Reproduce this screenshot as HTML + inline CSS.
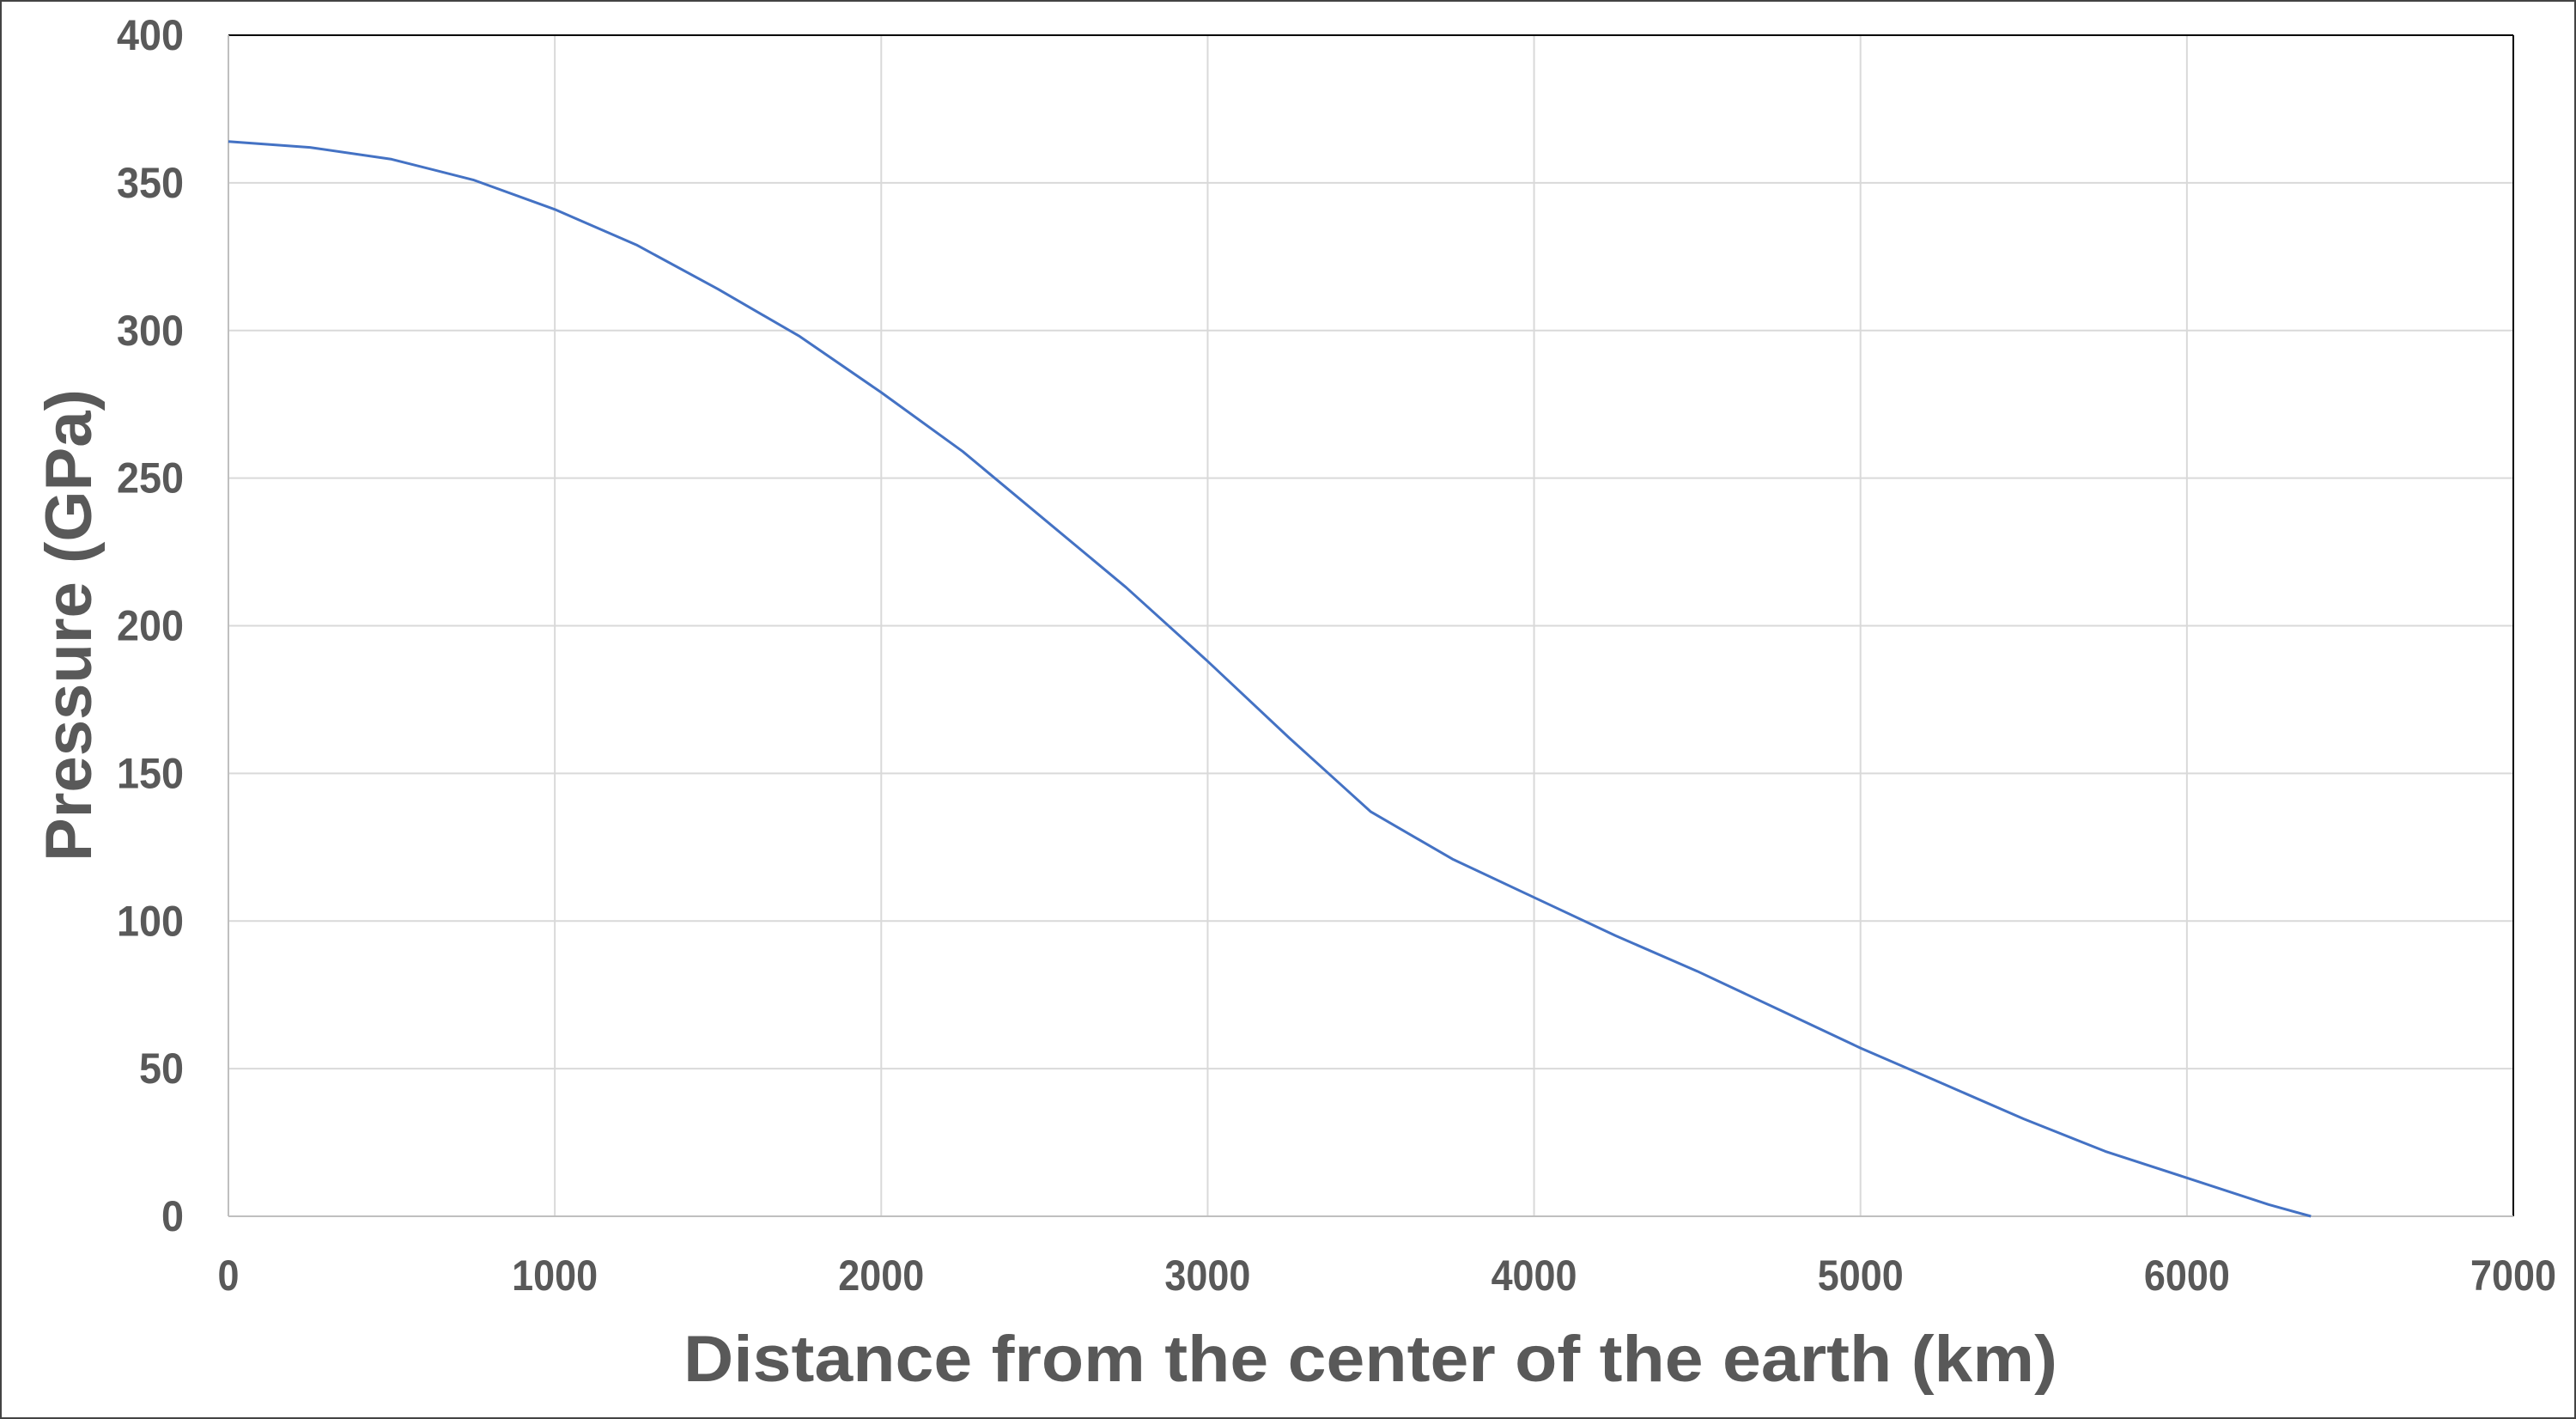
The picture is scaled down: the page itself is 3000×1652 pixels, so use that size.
<!DOCTYPE html>
<html><head><meta charset="utf-8"><style>
html,body{margin:0;padding:0;background:#fff;}
svg{display:block;}
text{font-family:"Liberation Sans",sans-serif;font-weight:bold;fill:#595959;}
</style></head><body>
<svg id="chart" width="3000" height="1652" viewBox="0 0 3000 1652" xmlns="http://www.w3.org/2000/svg">
<rect x="1" y="1" width="2998" height="1650" fill="#fff" stroke="#444" stroke-width="2"/>
<g id="grid"></g>
<g id="axes"></g>
<g id="series"></g>
<text x="1596" y="1608" text-anchor="middle" font-size="76" textLength="1600" lengthAdjust="spacingAndGlyphs">Distance from the center of the earth (km)</text>
<text transform="translate(106,728) rotate(-90)" text-anchor="middle" font-size="76" textLength="550" lengthAdjust="spacingAndGlyphs">Pressure (GPa)</text>
</svg>
<script>
const distances = [0,250,500,750,1000,1250,1500,1750,2000,2250,2500,2750,3000,3250,3400,3500,3750,4000,4250,4500,4750,5000,5250,5500,5750,6000,6250,6380];
const pressures = [364,362,358,351,341,329,314,298,279,259,236,213,188,162,147,137,121,108,95,83,70,57,45,33,22,13,4,0];
const xTicks = [0,1000,2000,3000,4000,5000,6000,7000];
const yTicks = [0,50,100,150,200,250,300,350,400];

const PL=266,PR=2927,PT=41,PB=1416;
const xs = v => PL + (v/7000)*(PR-PL);
const ys = v => PB - (v/400)*(PB-PT);
const NS="http://www.w3.org/2000/svg";
const gridG=document.getElementById('grid'), axesG=document.getElementById('axes'), seriesG=document.getElementById('series');
function mk(tag,attrs,parent){const e=document.createElementNS(NS,tag);for(const k in attrs)e.setAttribute(k,attrs[k]);parent.appendChild(e);return e;}

yTicks.forEach(v=>{
  const y=ys(v);
  if(v>0&&v<400){const g=mk('line',{x1:PL,x2:PR,y1:y,y2:y,stroke:'#d9d9d9','stroke-width':2},gridG);
  
  }
  const s=String(v);
  const t=mk('text',{x:214,y:y+17,'text-anchor':'end','font-size':50,textLength:s.length*26,lengthAdjust:'spacingAndGlyphs'},axesG);
  t.textContent=s;
  
  
});
xTicks.forEach(v=>{
  const x=xs(v);
  if(v>0&&v<7000){const g=mk('line',{x1:x,x2:x,y1:PT,y2:PB,stroke:'#d9d9d9','stroke-width':2},gridG);
  
  }
  const s=String(v);
  const t=mk('text',{x:x,y:1502,'text-anchor':'middle','font-size':50,textLength:s.length*25,lengthAdjust:'spacingAndGlyphs'},axesG);
  t.textContent=s;
  
  
});
const topBorder=mk('line',{x1:PL,x2:PR,y1:PT,y2:PT,stroke:'#000','stroke-width':2},axesG);


const rightBorder=mk('line',{x1:PR,x2:PR,y1:PT,y2:PB,stroke:'#000','stroke-width':2},axesG);


const xAxisLine=mk('line',{x1:PL,x2:PR,y1:PB,y2:PB,stroke:'#bfbfbf','stroke-width':2},axesG);


const yAxisLine=mk('line',{x1:PL,x2:PL,y1:PT,y2:PB,stroke:'#bfbfbf','stroke-width':2},axesG);



const pts=distances.map((d,i)=>xs(d).toFixed(1)+','+ys(pressures[i]).toFixed(1)).join(' ');
const pressureLine=mk('polyline',{points:pts,fill:'none',stroke:'#4472c4','stroke-width':3,'stroke-linejoin':'round'},seriesG);


</script>
</body></html>
